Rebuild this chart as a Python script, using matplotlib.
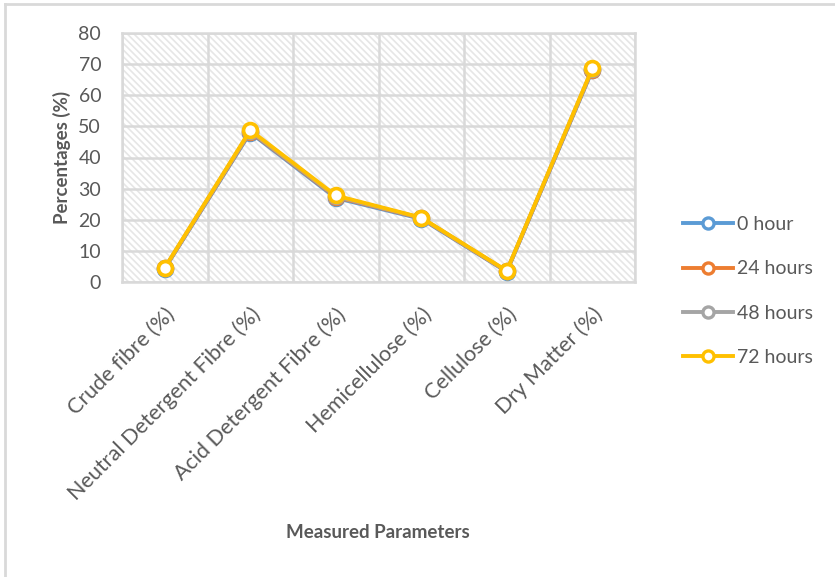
import numpy as np
import matplotlib.pyplot as plt
from matplotlib.patches import Rectangle
from matplotlib.lines import Line2D

plt.rcParams['font.family'] = ['Lato', 'DejaVu Sans']
plt.rcParams['hatch.color'] = '#e6e6e6'
plt.rcParams['hatch.linewidth'] = 1.2

parameters = ['Crude fibre (%)', 'Neutral Detergent Fibre (%)', 'Acid Detergent Fibre (%)',
              'Hemicellulose (%)', 'Cellulose (%)', 'Dry Matter (%)']
hours = ['0 hour', '24 hours', '48 hours', '72 hours']
h0 = [4.3, 48.0, 27.0, 20.3, 3.3, 68.0]
h24 = [4.4, 48.3, 27.3, 20.5, 3.4, 68.2]
h48 = [4.5, 48.5, 27.5, 20.6, 3.5, 68.4]
h72 = [4.6, 48.8, 27.8, 20.7, 3.6, 68.6]
colors = ['#5B9BD5', '#ED7D31', '#A5A5A5', '#FFC000']

grey = '#595959'
fig = plt.figure(figsize=(8.35, 5.77), dpi=100)
ax = fig.add_axes([122 / 835, 1 - 282 / 577, 513 / 835, 249 / 577])

# hatched plot background
ax.add_patch(Rectangle((0, 0), 1, 1, transform=ax.transAxes, facecolor='white',
                       edgecolor='#e6e6e6', hatch='\\\\\\\\\\', lw=0, zorder=0))

x = np.arange(len(parameters))
for vals, c, lab in zip([h0, h24, h48, h72], colors, hours):
    ax.plot(x, vals, color=c, lw=2.8, marker='o', ms=10, mfc='white', mec=c,
            mew=2.6, label=lab, zorder=3, solid_capstyle='round')

ax.set_xlim(-0.5, len(parameters) - 0.5)
ax.set_ylim(0, 80)
ax.set_yticks(range(0, 81, 10))
ax.set_xticks(x)
ax.set_xticks(np.arange(-0.5, len(parameters), 1), minor=True)
ax.set_xticklabels(parameters, rotation=45, ha='right', rotation_mode='anchor')
ax.tick_params(axis='both', which='both', length=0, colors=grey)
ax.tick_params(axis='x', pad=16, labelsize=15.5)
ax.tick_params(axis='y', pad=15, labelsize=14)
ax.grid(axis='y', color='#d9d9d9', lw=1.8, zorder=1)
ax.grid(axis='x', which='minor', color='#d9d9d9', lw=1.8, zorder=1)
for s in ax.spines.values():
    s.set_color('#d9d9d9')
    s.set_linewidth(1.8)
ax.set_axisbelow(True)

ax.set_ylabel('Percentages (%)', fontsize=13.5, fontweight='bold', color=grey, labelpad=5)
fig.text(378 / 835, 1 - 533 / 577, 'Measured Parameters', ha='center', va='center',
         fontsize=13.5, fontweight='bold', color=grey)

handles = [Line2D([], [], color=c, lw=2.8, marker='o', ms=8, mfc='white', mec=c, mew=2.4)
           for c in colors]
fig.legend(handles, hours, loc='center left', bbox_to_anchor=(665 / 835, 1 - 291 / 577),
           frameon=False, fontsize=14, labelcolor=grey, handlelength=2.6,
           handletextpad=0.2, labelspacing=1.4)

# chart frame
fig.add_artist(Line2D([5 / 835, 1], [1 - 4 / 577] * 2, color='#d9d9d9', lw=2,
                      transform=fig.transFigure))
fig.add_artist(Line2D([5 / 835] * 2, [0, 1 - 4 / 577], color='#d9d9d9', lw=2,
                      transform=fig.transFigure))

fig.savefig('out.png', dpi=100)
